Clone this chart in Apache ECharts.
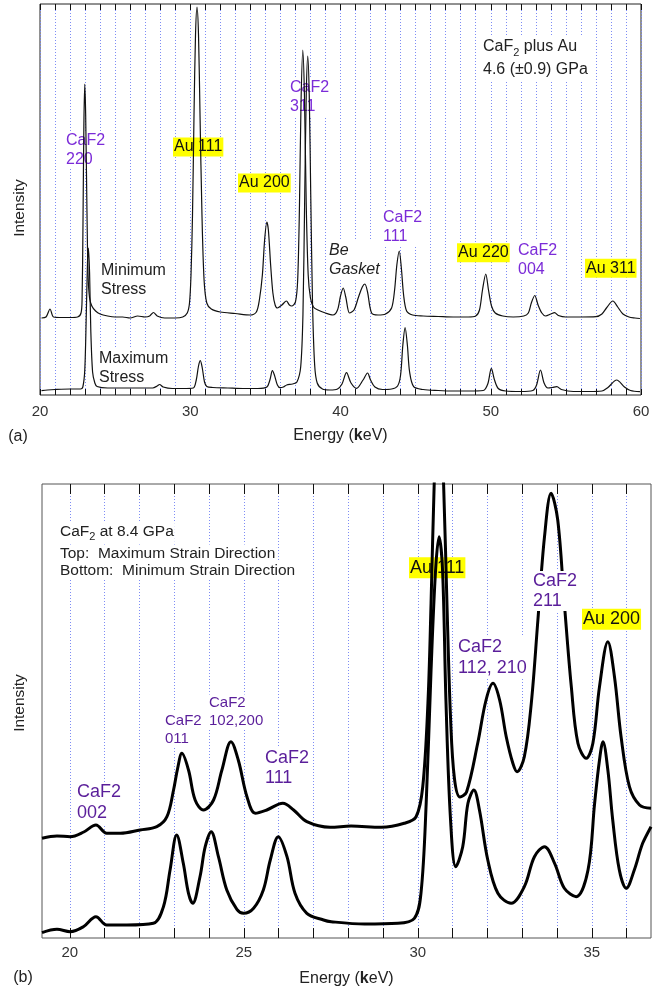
<!DOCTYPE html>
<html><head><meta charset="utf-8">
<script src="https://cdn.jsdelivr.net/npm/echarts@6/dist/echarts.min.js"></script>
<style>html,body{margin:0;padding:0;background:#fff}#c{width:663px;height:991px}</style>
</head><body><div id="c"></div>
<script>
// ---------- Panel (a): CaF2 plus Au, 4.6 GPa ----------
const aTickLabels = [20, 30, 40, 50, 60];
const aMinStress = [[20.1,77],[20.4,78],[20.67,86],[20.9,78],[21.5,77.5],[22.0,77.5],[22.5,78],[22.73,82],[22.8,95],[22.86,170],[22.92,270],[22.98,311],[23.04,280],[23.12,190],[23.2,120],[23.3,97],[23.45,89],[23.7,84],[24.0,81],[24.5,79],[25.0,78],[25.5,78],[26.0,77],[26.5,79],[27.0,78],[27.3,79],[27.55,82.5],[27.8,79],[28.3,77],[29.0,77],[29.5,78],[29.8,82],[29.95,92],[30.05,120],[30.15,180],[30.25,280],[30.35,360],[30.45,388],[30.55,360],[30.65,280],[30.78,180],[30.92,115],[31.1,92],[31.4,86],[32.0,83],[33.0,81.5],[34.0,80],[34.4,83],[34.6,95],[34.8,120],[34.95,155],[35.1,173],[35.2,165],[35.35,130],[35.5,102],[35.65,90],[35.8,87],[36.1,90],[36.4,94],[36.6,90],[36.75,89],[37.0,93],[37.15,115],[37.27,190],[37.37,290],[37.49,345],[37.6,300],[37.72,190],[37.85,120],[38.0,97],[38.2,88],[38.5,85],[39.0,82],[39.5,80],[39.8,85],[40.0,99],[40.18,107],[40.35,98],[40.6,82],[40.9,85],[41.2,98],[41.45,108],[41.62,111],[41.8,103],[42.07,82],[42.5,80],[43.0,81],[43.4,87],[43.6,105],[43.75,130],[43.91,144],[44.05,127],[44.2,100],[44.4,84],[44.8,80],[45.5,79],[46.5,78.5],[47.5,78],[48.5,78],[49.0,79],[49.25,85],[49.45,105],[49.67,121],[49.85,105],[50.05,89],[50.3,82],[50.8,79],[51.5,78],[52.2,79],[52.5,82],[52.7,92],[52.93,99.5],[53.15,90],[53.4,82],[53.65,79],[54.0,81],[54.25,82.3],[54.5,79.5],[55.0,78],[56.0,78],[57.0,78.3],[57.4,81],[57.7,87],[58.13,94],[58.45,88],[58.8,81],[59.2,78],[59.6,77],[59.93,76.5]];
const aMaxStress = [[20.1,4.3],[20.5,5],[21.0,5.5],[22.0,6],[22.7,6],[22.85,8],[22.98,25],[23.08,80],[23.16,132],[23.22,147],[23.3,122],[23.38,65],[23.5,23],[23.65,12],[23.8,8.5],[24.5,7],[25.5,7],[26.5,7],[27.5,7],[27.8,9],[27.96,10.5],[28.2,8],[28.8,6.5],[29.5,6.5],[30.2,7],[30.4,15],[30.55,29],[30.67,34.3],[30.8,27],[30.95,13],[31.1,8.5],[31.5,7.5],[32.5,7],[33.5,6.5],[34.5,6.5],[35.1,8],[35.3,15],[35.47,24.3],[35.6,20],[35.8,10],[35.98,7.3],[36.2,8],[36.42,10],[36.8,11],[37.1,13],[37.35,28],[37.5,80],[37.62,200],[37.72,300],[37.82,339],[37.92,300],[38.02,200],[38.14,90],[38.28,30],[38.45,12],[38.8,6],[39.3,5],[39.8,6],[40.1,11],[40.4,22.3],[40.7,12],[41.07,6.7],[41.5,15],[41.8,22],[42.0,15],[42.29,8],[42.8,5.5],[43.4,6],[43.8,9],[44.0,20],[44.15,50],[44.3,67.3],[44.45,50],[44.6,23],[44.87,8.3],[45.5,5.5],[46.5,4.5],[47.5,4],[48.5,4],[49.5,4.5],[49.8,11],[50.04,26.7],[50.25,15],[50.5,6.5],[51.0,4],[52.0,3.5],[52.8,4.5],[53.05,10],[53.31,25],[53.55,12],[53.8,7],[54.1,7.5],[54.4,8.3],[54.7,5.5],[55.5,3.5],[56.5,3.5],[57.4,4],[57.8,7.5],[58.38,15],[58.9,8],[59.3,4.5],[59.93,3.3]];

// ---------- Panel (b): CaF2 at 8.4 GPa ----------
const bTickLabels = [20, 25, 30, 35];
const bGridLines = [20,21,22,23,24,25,26,27,28,29,30,31,32,33,34,35,36];
const bMaxStrain = [[19.2,99.7],[19.63,102],[20.01,101.3],[20.4,106],[20.75,113],[21.06,104.7],[21.45,104.7],[22.02,108],[22.5,111.3],[22.79,121.3],[22.98,148],[23.1,170],[23.22,184.7],[23.41,168],[23.6,138],[23.84,128],[24.13,138],[24.37,168],[24.63,196.3],[24.84,178],[25.09,141.3],[25.33,124.7],[25.66,128],[26.12,134.7],[26.43,128],[26.81,116.3],[27.48,110.7],[28.08,112],[28.95,110.7],[29.61,114.7],[29.95,121.3],[30.14,151],[30.29,235],[30.38,335],[30.47,454],[30.6,570],[30.74,454],[30.84,330],[30.94,220],[31.05,160],[31.21,141],[31.4,146],[31.72,194.7],[31.96,238],[32.16,254.7],[32.35,238],[32.54,201.3],[32.73,174.7],[32.85,166.3],[33.06,181.3],[33.26,234.7],[33.45,318],[33.64,401.3],[33.83,444.7],[34.02,418],[34.21,334.7],[34.41,251.3],[34.6,194.7],[34.84,179.7],[35.03,194.7],[35.22,251.3],[35.46,296.3],[35.65,261.3],[35.84,201.3],[36.08,151.3],[36.37,133],[36.7,129.7]];
const bMinStrain = [[19.2,5.3],[19.63,8.7],[20.01,6.3],[20.39,11.3],[20.75,21.3],[21.06,13],[21.64,13],[22.4,14.7],[22.69,31.3],[22.88,68],[23.07,103],[23.26,74.7],[23.41,44.7],[23.53,34.7],[23.74,61.3],[23.89,91.3],[24.06,106.3],[24.27,81.3],[24.51,48],[24.8,28.7],[24.99,24.7],[25.28,29.7],[25.56,48],[25.76,78],[25.99,101.3],[26.24,81.3],[26.47,44.7],[26.81,24.7],[27.29,18],[27.51,16.3],[28.47,14],[29.43,14.7],[29.9,19.7],[30.09,44.7],[30.24,134.7],[30.38,268],[30.51,368],[30.61,401.3],[30.71,368],[30.81,234.7],[30.94,118],[31.09,71.3],[31.29,91.3],[31.44,134.7],[31.61,148],[31.77,128],[32.01,78],[32.3,44.7],[32.68,34.7],[33.06,51.3],[33.35,81.3],[33.64,91.3],[33.93,74.7],[34.21,49.7],[34.55,41.3],[34.89,68],[35.08,134.7],[35.22,178],[35.32,196.3],[35.46,168],[35.6,118],[35.79,68],[35.99,49.7],[36.22,68],[36.46,94.7],[36.7,111.3]];

const FF = '"Liberation Sans", Arial, Helvetica, sans-serif';
const PURPLE_A = '#7b2bd8';
const PURPLE_B = '#5a1e9a';
const GRIDC = '#7d8cf5';

function txt(x, y, text, st, z) {
  return {
    type: 'text', x: x, y: y, z: z || 3, silent: true,
    style: Object.assign({
      text: text, fill: '#222', fontFamily: FF, fontSize: 16, lineHeight: 19,
      align: 'left', verticalAlign: 'top', backgroundColor: '#fff', padding: [0, 1, 0, 1]
    }, st)
  };
}
function au(x, yc, text, fs) {
  return txt(x, yc, text, {fontSize: fs, lineHeight: fs + 2, verticalAlign: 'middle',
    backgroundColor: '#ffff00', padding: [1, 1, 0, 1], fill: '#111'});
}
const sub = {fontSize: 11, lineHeight: 11, verticalAlign: 'bottom', fontFamily: FF, fill: '#222'};

const chart = echarts.init(document.getElementById('c'), null, {renderer: 'canvas'});
chart.setOption({
  animation: false,
  backgroundColor: '#fff',
  grid: [
    {left: 40, right: 22, top: 4, height: 391, show: true, borderColor: '#222', borderWidth: 1, backgroundColor: 'transparent'},
    {left: 42, right: 12, top: 484, height: 454, show: true, borderColor: '#555', borderWidth: 1, backgroundColor: 'transparent'}
  ],
  xAxis: [
    {type: 'value', gridIndex: 0, min: 20, max: 60, interval: 1, position: 'bottom',
     axisLine: {show: false}, axisTick: {show: true, inside: true, length: 6, lineStyle: {color: '#111'}},
     axisLabel: {customValues: aTickLabels, fontSize: 15, color: '#333', fontFamily: FF, margin: 9},
     splitLine: {show: true, lineStyle: {type: [1, 2], color: GRIDC, width: 1}},
     name: 'Energy ({b|k}eV)', nameLocation: 'middle', nameGap: 33,
     nameTextStyle: {fontSize: 16, color: '#222', fontFamily: FF, rich: {b: {fontWeight: 'bold', fontSize: 16, fontFamily: FF, color: '#222'}}}},
    {type: 'value', gridIndex: 0, min: 20, max: 60, interval: 1, position: 'top',
     axisLine: {show: false}, axisTick: {show: true, inside: true, length: 6, lineStyle: {color: '#111'}},
     axisLabel: {show: false}, splitLine: {show: false}},
    {type: 'value', gridIndex: 1, min: 19.2, max: 36.7, position: 'bottom',
     axisLine: {show: false}, axisTick: {show: true, inside: true, length: 10, customValues: bGridLines, lineStyle: {color: '#111'}},
     axisLabel: {customValues: bTickLabels, fontSize: 15, color: '#333', fontFamily: FF, margin: 7},
     splitLine: {show: true, lineStyle: {type: [1, 2], color: GRIDC, width: 1}},
     name: 'Energy ({b|k}eV)', nameLocation: 'middle', nameGap: 33,
     nameTextStyle: {fontSize: 16, color: '#222', fontFamily: FF, rich: {b: {fontWeight: 'bold', fontSize: 16, fontFamily: FF, color: '#222'}}}},
    {type: 'value', gridIndex: 1, min: 19.2, max: 36.7, position: 'top',
     axisLine: {show: false}, axisTick: {show: true, inside: true, length: 10, customValues: bGridLines, lineStyle: {color: '#111'}},
     axisLabel: {show: false}, splitLine: {show: false}}
  ],
  yAxis: [
    {type: 'value', gridIndex: 0, min: 0, max: 391, show: false},
    {type: 'value', gridIndex: 1, min: 0, max: 454, show: false}
  ],
  series: [
    {type: 'line', name: 'Minimum Stress', xAxisIndex: 0, yAxisIndex: 0, data: aMinStress, showSymbol: false, smooth: 0.3, z: 5,
     lineStyle: {color: '#111', width: 1.2}},
    {type: 'line', name: 'Maximum Stress', xAxisIndex: 0, yAxisIndex: 0, data: aMaxStress, showSymbol: false, smooth: 0.3, z: 5,
     lineStyle: {color: '#111', width: 1.2}},
    {type: 'line', name: 'Maximum Strain Direction', xAxisIndex: 2, yAxisIndex: 1, data: bMaxStrain, showSymbol: false, smooth: 0.35, z: 5, clip: true,
     lineStyle: {color: '#000', width: 3}},
    {type: 'line', name: 'Minimum Strain Direction', xAxisIndex: 2, yAxisIndex: 1, data: bMinStrain, showSymbol: false, smooth: 0.35, z: 5, clip: true,
     lineStyle: {color: '#000', width: 3}}
  ],
  graphic: {elements: [
    // panel (a)
    txt(65, 131, 'CaF2\n220', {fill: PURPLE_A}),
    au(173, 147, 'Au 111', 16),
    au(238, 183, 'Au 200', 16),
    txt(289, 78, 'CaF2\n311', {fill: PURPLE_A}),
    txt(100, 261, 'Minimum\nStress', {fill: '#222'}),
    txt(98, 349, 'Maximum\nStress', {fill: '#222'}),
    txt(328, 241, 'Be\nGasket', {fill: '#222', fontStyle: 'italic'}),
    txt(382, 208, 'CaF2\n111', {fill: PURPLE_A}),
    au(457, 252.7, 'Au 220', 16),
    txt(517, 241, 'CaF2\n004', {fill: PURPLE_A}),
    au(585, 268.3, 'Au 311', 16),
    txt(482, 35, 'CaF{sub|2} plus Au\n4.6 (±0.9) GPa', {fill: '#222', lineHeight: 23, rich: {sub: sub}}),
    txt(18, 437, '(a)', {backgroundColor: 'transparent', verticalAlign: 'middle', align: 'center'}),
    {type: 'text', x: 20, y: 208, rotation: Math.PI / 2, silent: true, z: 3,
     style: {text: 'Intensity', fill: '#222', fontFamily: FF, fontSize: 15.5, align: 'center', verticalAlign: 'middle'}},
    // panel (b)
    txt(59, 521, 'CaF{sub|2} at 8.4 GPa', {fontSize: 15.5, lineHeight: 21, rich: {sub: sub}}),
    txt(59, 544.5, 'Top:  Maximum Strain Direction', {fontSize: 15.5, lineHeight: 17.5}),
    txt(59, 562, 'Bottom:  Minimum Strain Direction', {fontSize: 15.5, lineHeight: 17.5}),
    txt(76, 782, 'CaF2\n002', {fill: PURPLE_B, fontSize: 18, lineHeight: 21}),
    txt(164, 712, 'CaF2\n011', {fill: PURPLE_B, fontSize: 15, lineHeight: 17.6}),
    txt(208, 694.5, 'CaF2\n102,200', {fill: PURPLE_B, fontSize: 15, lineHeight: 17.4}),
    txt(264, 748, 'CaF2\n111', {fill: PURPLE_B, fontSize: 18, lineHeight: 20}),
    au(409, 567.7, 'Au 111', 18),
    txt(457, 637, 'CaF2\n112, 210', {fill: PURPLE_B, fontSize: 18, lineHeight: 21}),
    txt(532, 571, 'CaF2\n211', {fill: PURPLE_B, fontSize: 18, lineHeight: 20}, 6),
    au(582, 619.3, 'Au 200', 18),
    txt(23, 978, '(b)', {backgroundColor: 'transparent', verticalAlign: 'middle', align: 'center'}),
    {type: 'text', x: 20, y: 703, rotation: Math.PI / 2, silent: true, z: 3,
     style: {text: 'Intensity', fill: '#222', fontFamily: FF, fontSize: 15.5, align: 'center', verticalAlign: 'middle'}}
  ]}
});
</script></body></html>
